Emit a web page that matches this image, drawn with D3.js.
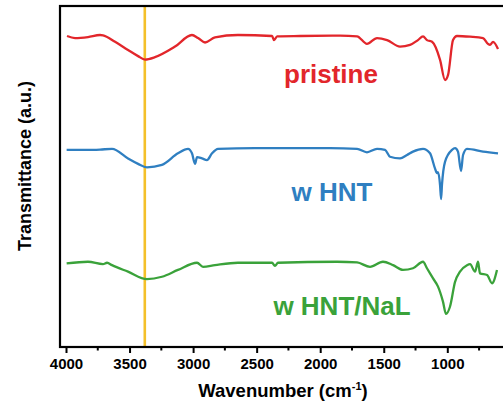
<!DOCTYPE html>
<html>
<head>
<meta charset="utf-8">
<script src="https://cdn.jsdelivr.net/npm/d3@7"></script>
<style>
  html, body { margin: 0; padding: 0; background: #fff; }
  svg { display: block; font-family: "Liberation Sans", Arial, sans-serif; font-weight: bold; }
</style>
</head>
<body>
<div id="chart"></div>
<script>
// FTIR spectra, [wavenumber (cm-1), transmittance (a.u., offset stacked)]
var pristine = [
  [3992, 91.2], [3929, 90.6], [3827, 90.9], [3732, 91.5], [3709, 91.4], [3614, 89.5],
  [3512, 87.1], [3433, 85.3], [3378, 84.3], [3300, 85.0], [3142, 88.1], [3009, 91.5],
  [2961, 90.6], [2906, 89.3], [2828, 90.8], [2647, 91.5], [2379, 91.2], [2363, 90.0],
  [2339, 91.1], [2159, 91.2], [1844, 91.3], [1710, 91.1], [1632, 88.9], [1553, 90.6],
  [1474, 90.0], [1372, 88.1], [1293, 88.6], [1231, 90.0], [1191, 91.1], [1160, 90.0],
  [1120, 89.5], [1057, 84.2], [1018, 78.3], [994, 79.8], [955, 90.0], [924, 91.2],
  [821, 91.0], [719, 90.6], [680, 88.9], [664, 88.6], [640, 89.5], [601, 87.4]
];

var wHNT = [
  [3995, 57.8], [3827, 57.8], [3732, 57.9], [3638, 58.1], [3512, 55.3], [3433, 53.7],
  [3363, 52.7], [3245, 53.4], [3119, 56.8], [3040, 58.1], [3009, 56.8], [2985, 53.7],
  [2969, 55.7], [2930, 55.3], [2891, 54.8], [2851, 56.8], [2804, 58.1], [2513, 58.3],
  [2277, 58.3], [1923, 58.3], [1710, 58.1], [1632, 57.1], [1553, 58.1], [1490, 57.8],
  [1451, 55.8], [1372, 55.3], [1317, 56.3], [1270, 57.3], [1191, 58.1], [1136, 56.8],
  [1097, 52.4], [1081, 51.0], [1073, 51.3], [1057, 47.5], [1049, 43.4], [1042, 47.5],
  [1018, 54.3], [963, 57.8], [939, 58.3], [916, 57.3], [892, 51.6], [876, 56.3],
  [845, 58.1], [719, 57.3], [601, 56.8]
];

var wHNTNaL = [
  [3995, 24.5], [3827, 25.0], [3709, 24.3], [3677, 24.7], [3638, 24.0], [3512, 22.1],
  [3363, 19.9], [3245, 20.6], [3119, 22.6], [2969, 24.7], [2922, 23.5], [2828, 24.0],
  [2647, 24.7], [2379, 24.7], [2356, 23.8], [2332, 24.7], [1868, 25.0], [1710, 24.8],
  [1608, 23.5], [1506, 25.0], [1427, 24.0], [1349, 22.6], [1270, 23.1], [1191, 25.0],
  [1160, 23.1], [1112, 20.1], [1073, 17.7], [1034, 13.3], [1010, 9.7], [979, 11.8],
  [939, 19.1], [900, 22.1], [845, 24.0], [821, 24.3], [782, 22.1], [758, 25.0],
  [743, 21.6], [687, 21.1], [648, 18.7], [609, 22.6]
];

var seriesNames = ["pristine", "w HNT", "w HNT/NaL"];
var seriesData = [pristine, wHNT, wHNTNaL];
var xTicks = [4000, 3500, 3000, 2500, 2000, 1500, 1000];
var xMinorTicks = [3750, 3250, 2750, 2250, 1750, 1250, 750];
var markerWavenumber = 3380;

var colors = ["#e2262b", "#2f7fc1", "#3aa23a"];
var labelPos = [
  { x: 331, y: 83 },
  { x: 332, y: 201 },
  { x: 342, y: 315 }
];

var width = 503, height = 406;
var margins = { top: 6, right: -7, bottom: 59, left: 60 };
var plotW = width - margins.left - margins.right;
var plotH = height - margins.top - margins.bottom;

var svg = d3.select("#chart").append("svg")
  .attr("width", width)
  .attr("height", height);

svg.append("rect").attr("width", width).attr("height", height).attr("fill", "#fff");

var chart = svg.append("g")
  .attr("transform", `translate(${margins.left},${margins.top})`);

// 4000 sits 6px in from the frame, 1000 at 387px
var xScale = d3.scaleLinear().domain([4000, 1000]).range([6, 387.3]);
var yScale = d3.scaleLinear().domain([0, 100]).range([plotH, 0]);

chart.append("clipPath").attr("id", "plot-clip")
  .append("rect").attr("width", plotW).attr("height", plotH);

// marker line for the O-H band
chart.append("line")
  .attr("x1", xScale(markerWavenumber))
  .attr("x2", xScale(markerWavenumber))
  .attr("y1", -1)
  .attr("y2", plotH)
  .attr("stroke", "#f4c02a")
  .attr("stroke-width", 2.6);

var line = d3.line()
  .curve(d3.curveMonotoneX)
  .x((d) => xScale(d[0]))
  .y((d) => yScale(d[1]));

chart.append("g")
  .attr("clip-path", "url(#plot-clip)")
  .selectAll("path")
  .data(seriesData)
  .enter()
  .append("path")
  .attr("d", line)
  .attr("fill", "none")
  .attr("stroke", (d, i) => colors[i])
  .attr("stroke-width", 2.3)
  .attr("stroke-linejoin", "round");

chart.selectAll(".series-label")
  .data(seriesNames)
  .enter()
  .append("text")
  .attr("class", "series-label")
  .attr("x", (d, i) => labelPos[i].x - margins.left)
  .attr("y", (d, i) => labelPos[i].y - margins.top)
  .attr("text-anchor", "middle")
  .style("font-size", "26px")
  .style("fill", (d, i) => colors[i])
  .text((d) => d);

// frame
chart.append("rect")
  .attr("width", plotW)
  .attr("height", plotH)
  .attr("fill", "none")
  .attr("stroke", "#000")
  .attr("stroke-width", 2.2);

// x axis
var xAxis = d3.axisBottom(xScale)
  .tickValues(xTicks)
  .tickSize(6)
  .tickPadding(5)
  .tickFormat(d3.format("d"));

var axisG = chart.append("g")
  .attr("transform", `translate(0,${plotH})`)
  .call(xAxis);
axisG.select(".domain").remove();
axisG.selectAll(".tick line").attr("stroke", "#000").attr("stroke-width", 2);
axisG.selectAll(".tick text")
  .style("font-size", "15px")
  .style("font-family", "'Liberation Sans', Arial, sans-serif")
  .style("font-weight", "bold")
  .attr("fill", "#000");

axisG.selectAll(".minor")
  .data(xMinorTicks)
  .enter()
  .append("line")
  .attr("class", "minor")
  .attr("x1", (d) => xScale(d))
  .attr("x2", (d) => xScale(d))
  .attr("y1", 0)
  .attr("y2", 3.5)
  .attr("stroke", "#000")
  .attr("stroke-width", 2);

// axis titles
var xTitle = svg.append("text")
  .attr("x", 283)
  .attr("y", 397)
  .attr("text-anchor", "middle")
  .style("font-size", "18.5px");
xTitle.append("tspan").text("Wavenumber (cm");
xTitle.append("tspan").attr("dy", -7).style("font-size", "11px").text("-1");
xTitle.append("tspan").attr("dy", 7).text(")");

svg.append("text")
  .attr("transform", "translate(31,166) rotate(-90)")
  .attr("text-anchor", "middle")
  .style("font-size", "18px")
  .text("Transmittance (a.u.)");
</script>
</body>
</html>
